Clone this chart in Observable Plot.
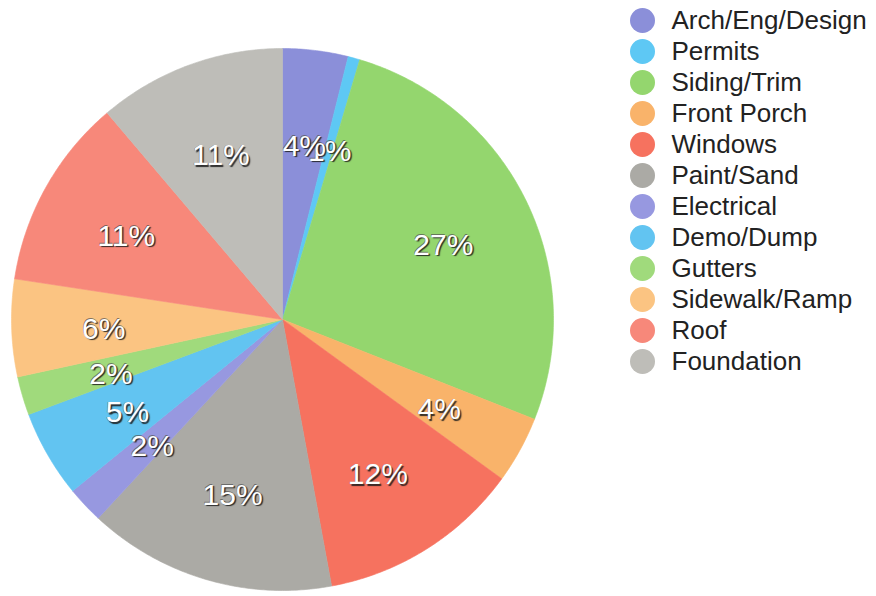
<!DOCTYPE html>
<html>
<head>
<meta charset="utf-8">
<script src="https://cdn.jsdelivr.net/npm/d3@7"></script>
<script src="https://cdn.jsdelivr.net/npm/@observablehq/plot@0.6"></script>
<style>
  html, body { margin: 0; padding: 0; background: #fff; }
  #wrap { position: relative; width: 876px; height: 596px; overflow: hidden; }
  #pie { position: absolute; left: 0; top: 0; }
  #legend { position: absolute; left: 600px; top: 0; }
  #pie text { text-shadow: 1.5px 1.5px 1px rgba(30,30,30,0.9), -0.5px -0.5px 0 rgba(80,80,80,0.7); }
</style>
</head>
<body>
<div id="wrap"><div id="pie"></div><div id="legend"></div></div>
<script>
// Categories in drawing order (clockwise from 12 o'clock)
const categories = ["Arch/Eng/Design", "Permits", "Siding/Trim", "Front Porch", "Windows", "Paint/Sand",
  "Electrical", "Demo/Dump", "Gutters", "Sidewalk/Ramp", "Roof", "Foundation"];
// Share of total cost (%)
const shares = [3.9, 0.7, 26.4, 4.0, 12.1, 14.8, 2.2, 5.2, 2.3, 5.8, 11.4, 11.2];
// Labels printed on the slices
const labels = ["4%", "1%", "27%", "4%", "12%", "15%", "2%", "5%", "2%", "6%", "11%", "11%"];
const colors = ["#8b8fd9", "#5ec8f4", "#94d66e", "#f9b36a", "#f6725f", "#abaaa5",
  "#9798e0", "#62c4f1", "#a0da7c", "#fbc482", "#f7887a", "#bebdb8"];

const total = d3.sum(shares);
let acc = 0;
const slices = categories.map((name, i) => {
  const s = acc / total; acc += shares[i]; const e = acc / total;
  return {name, s, e, label: labels[i]};
});

// Build polygon vertices for each slice in unit-circle coordinates
const pts = [];
for (const sl of slices) {
  pts.push({name: sl.name, x: 0, y: 0});
  const a0 = sl.s * 2 * Math.PI, a1 = sl.e * 2 * Math.PI;
  const n = Math.max(2, Math.ceil((a1 - a0) / (Math.PI / 360)));
  for (let k = 0; k <= n; k++) {
    const a = a0 + (a1 - a0) * k / n;
    pts.push({name: sl.name, x: Math.sin(a), y: Math.cos(a)});
  }
  pts.push({name: sl.name, x: 0, y: 0});
}
const labelR = 0.66;
const labelPts = slices.map(sl => {
  const a = (sl.s + sl.e) * Math.PI;
  return {name: sl.name, label: sl.label, x: labelR * Math.sin(a), y: labelR * Math.cos(a)};
});
// draw the Permits label beneath the Arch label (as in the original)
const labelOrder = [labelPts[1], labelPts[0], ...labelPts.slice(2)];

const colorScale = {type: "ordinal", domain: categories, range: colors};

const pie = Plot.plot({
  width: 876, height: 596,
  marginLeft: 11, marginRight: 323, marginTop: 48, marginBottom: 6,
  x: {domain: [-1, 1], axis: null},
  y: {domain: [-1, 1], axis: null},
  color: colorScale,
  style: {fontFamily: "'Liberation Sans', Arial, Helvetica, sans-serif", background: "transparent"},
  marks: [
    Plot.line(pts, {x: "x", y: "y", z: "name", fill: "name", stroke: "name", strokeWidth: 0.6, curve: "linear"}),
    Plot.text(labelOrder, {x: "x", y: "y", text: "label", fill: "white", fontSize: 30, dy: 4})
  ]
});
document.getElementById("pie").appendChild(pie);

const legend = Plot.plot({
  width: 276, height: 380,
  marginLeft: 42, marginRight: 0, marginTop: 18, marginBottom: 18,
  y: {type: "point", domain: categories, padding: 0, axis: null},
  color: colorScale,
  style: {fontFamily: "'Liberation Sans', Arial, Helvetica, sans-serif", background: "transparent"},
  marks: [
    Plot.dot(categories, {y: d => d, fill: d => d, r: 12.5, frameAnchor: "left"}),
    Plot.text(categories, {y: d => d, text: d => d, frameAnchor: "left", textAnchor: "start", dx: 29, fontSize: 26, fill: "#222"})
  ]
});
document.getElementById("legend").appendChild(legend);
</script>
</body>
</html>
